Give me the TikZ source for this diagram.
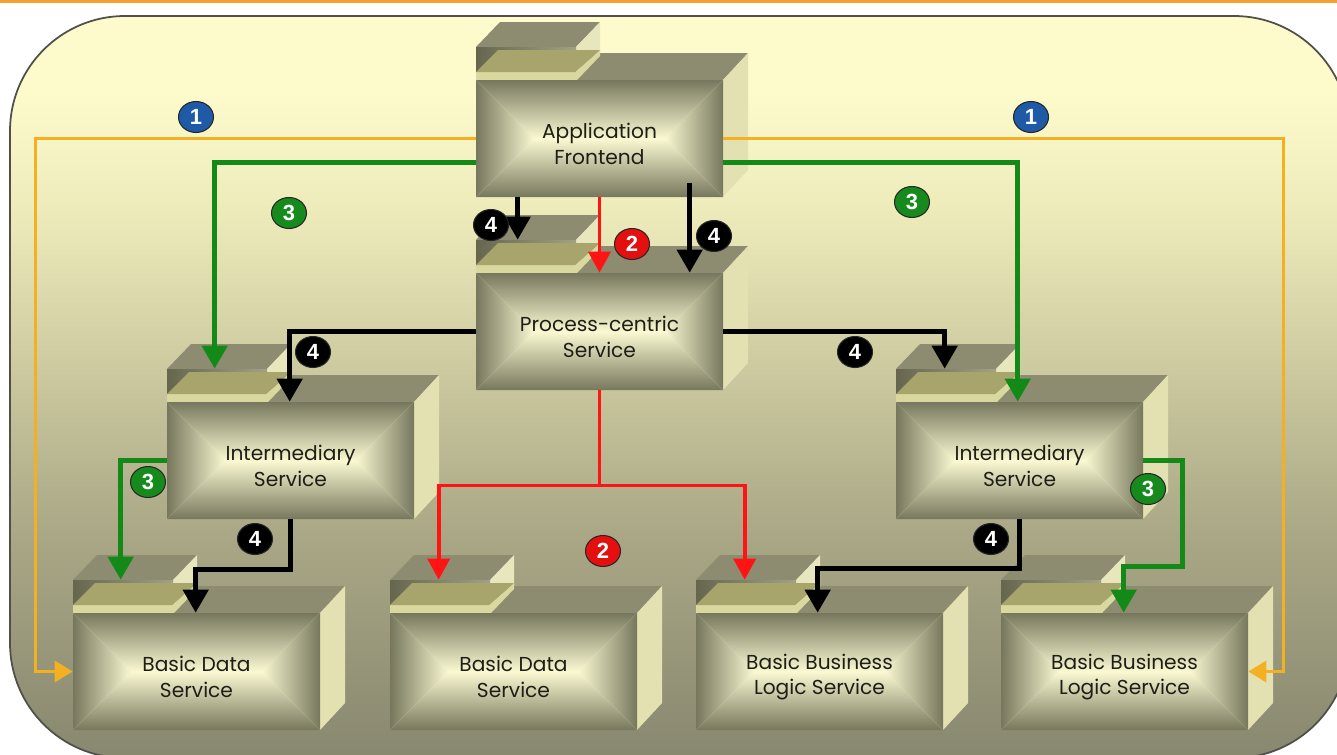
\documentclass[tikz,border=0pt]{standalone}
\usepackage{fontspec}
\setmainfont{Poppins}
\newfontfamily\badgefont{Liberation Sans}
\usetikzlibrary{arrows.meta,calc,shapes.geometric}

\definecolor{bgtop}{HTML}{FDFBCC}
\definecolor{bghigh}{HTML}{EEEBBB}
\definecolor{bgmid}{HTML}{CFCCA2}
\definecolor{bglow}{HTML}{A9A785}
\definecolor{bgbot}{HTML}{888870}
\definecolor{framec}{HTML}{505048}
\definecolor{topline}{HTML}{F6A032}
\definecolor{topc}{HTML}{8D8C71}
\definecolor{sidec}{HTML}{E3E1B2}
\definecolor{tabside}{HTML}{E8E6BC}
\definecolor{pocketl}{HTML}{66664F}
\definecolor{pocketr}{HTML}{A2A185}
\definecolor{stripc}{HTML}{A8A56C}
\definecolor{stripedge}{HTML}{D9D89E}
\definecolor{pedge}{HTML}{77775D}
\definecolor{pmid}{HTML}{FAF9D2}
\definecolor{textc}{HTML}{1E1E16}
\definecolor{orangec}{HTML}{F4B023}
\definecolor{greenc}{HTML}{138A17}
\definecolor{redc}{HTML}{FF1414}
\definecolor{bluebadge}{HTML}{1F5AA6}
\definecolor{greenbadge}{HTML}{178A1D}
\definecolor{redbadge}{HTML}{E41010}

\pgfdeclareverticalshading{panelshade}{100bp}{color(0bp)=(bgbot); color(25bp)=(bgbot);
  color(40bp)=(bglow); color(52bp)=(bgmid); color(62bp)=(bghigh); color(70bp)=(bgtop);
  color(100bp)=(bgtop)}

\tikzset{
  boxface/.style={inner sep=0pt, minimum width=4.94cm, minimum height=2.34cm},
  boxlabel/.style={inner sep=0pt, align=center, text=textc,
    font=\fontsize{11.5}{14.5}\selectfont},
  badge/.style={ellipse, draw=black!85, line width=0.6pt, fill=#1, inner sep=0pt,
    minimum width=0.7cm, minimum height=0.62cm, text=white,
    font=\badgefont\bfseries\fontsize{12.5}{12.5}\selectfont},
  flow1/.style={draw=orangec, line width=2pt, -{Triangle[length=0.36cm,width=0.42cm]}},
  flow2/.style={draw=redc, line width=2.1pt, -{Triangle[length=0.42cm,width=0.44cm]}},
  flow3/.style={draw=greenc, line width=2.7pt, -{Triangle[length=0.46cm,width=0.5cm]}},
  flow4/.style={draw=black, line width=2.7pt, -{Triangle[length=0.46cm,width=0.5cm]}}
}

% folder shaped service box, front face at #2,#3
\newcommand{\servicebox}[4]{%
  \begin{scope}[shift={(#2,#3)}]
    % tab
    \fill[topc] (0,-33) -- (24,-58) -- (124,-58) -- (100,-33) -- cycle;
    \fill[tabside] (100,-33) -- (124,-58) -- (124,-26) -- (100,-26) -- cycle;
    % top and side
    \fill[topc] (0,0) -- (25,-27) -- (272,-27) -- (247,0) -- cycle;
    \fill[sidec] (247,0) -- (272,-27) -- (272,90) -- (247,117) -- cycle;
    % pocket and paper
    \shade[left color=pocketl, right color=pocketr] (0,-33) rectangle (100,0);
    \fill[stripedge] (0,-8) -- (99,-8) -- (124,-30) -- (124,-24) -- (101,0) -- (0,0) -- cycle;
    \fill[stripc] (0,-8) -- (22,-30) -- (124,-30) -- (99,-8) -- cycle;
    % front
    \fill[pmid] (0,0) rectangle (247,117);
    \shade[left color=pedge, right color=pmid] (0,0) -- (58.5,58.5) -- (0,117) -- cycle;
    \shade[left color=pmid, right color=pedge] (247,0) -- (188.5,58.5) -- (247,117) -- cycle;
    \shade[top color=pedge, bottom color=pmid] (0,0) -- (247,0) -- (188.5,58.5) -- (58.5,58.5) -- cycle;
    \shade[top color=pmid, bottom color=pedge] (0,117) -- (247,117) -- (188.5,58.5) -- (58.5,58.5) -- cycle;
    \node[boxface] (#1) at (123.5,58.5) {};
    \node[boxlabel] (#1-text) at (123.5,64) {#4};
  \end{scope}}

\begin{document}
\begin{tikzpicture}[x=0.02cm, y=-0.02cm]
	\fill[white] (0,0) rectangle (1337,754);
	\useasboundingbox (0,0) rectangle (1337,754);
	\draw[topline, line width=0.06cm] (0,1.5) -- (1337,1.5);
	\shadedraw[shading=panelshade, draw=framec, line width=1pt, rounded corners=2.3cm]
		(10,16) rectangle (1349,758);

	\servicebox{app}{476}{80}{Application\\Frontend}
	\servicebox{proc}{476}{273}{Process-centric\\Service}
	\servicebox{intL}{167}{402}{Intermediary\\Service}
	\servicebox{intR}{896}{402}{Intermediary\\Service}
	\servicebox{bd1}{73}{613}{Basic Data\\Service}
	\servicebox{bd2}{390}{613}{Basic Data\\Service}
	\servicebox{bl1}{696}{613}{Basic Business\\Logic Service}
	\servicebox{bl2}{1001}{613}{Basic Business\\Logic Service}

	% 1
	\draw[flow1] (app.west) -- ++(-440,0) |- (bd1.west);
	\draw[flow1] (app.east) -- ++(560,0) |- (bl2.east);
	% 3
	\draw[flow3] ($(app.west)+(0,24)$) -| ($(intL.north west)+(48,-33)$);
	\draw[flow3] ($(app.east)+(0,24)$) -| ($(intR.north west)+(122,0)$);
	\draw[flow3] (intL.west) -| ($(bd1.north west)+(48,-33)$);
	\draw[flow3] (intR.east) -- ++(39,0) -- ++(0,106) -| ($(bl2.north west)+(123,0)$);
	% 4
	\draw[flow4] ($(app.south west)+(42,0)$) -- ($(proc.north west)+(42,-33)$);
	\draw[flow4] ($(app.south west)+(214,-14)$) -- ($(proc.north west)+(214,0)$);
	\draw[flow4] (proc.west) -| ($(intL.north west)+(123,0)$);
	\draw[flow4] (proc.east) -| ($(intR.north west)+(49,-33)$);
	\draw[flow4] ($(intL.south west)+(124,0)$) -- ++(0,50) -| ($(bd1.north west)+(123,0)$);
	\draw[flow4] ($(intR.south west)+(124,0)$) -- ++(0,49) -| ($(bl1.north west)+(122,0)$);
	% 2
	\draw[flow2] (app.south) -- (proc.north);
	\draw[flow2] (proc.south) -- ++(0,95) -| ($(bd2.north west)+(49,-33)$);
	\draw[flow2] (proc.south) -- ++(0,95) -| ($(bl1.north west)+(49,-33)$);

	\node[badge=bluebadge] (n1l) at (196,117) {1};
	\node[badge=bluebadge] (n1r) at (1031,117) {1};
	\node[badge=redbadge] (n2t) at (632,244) {2};
	\node[badge=redbadge] (n2b) at (603,551) {2};
	\node[badge=greenbadge] (n3l) at (289,213) {3};
	\node[badge=greenbadge] (n3r) at (912,202) {3};
	\node[badge=greenbadge] (n3il) at (148,482) {3};
	\node[badge=greenbadge] (n3ir) at (1148,489) {3};
	\node[badge=black] (n4a) at (491,225) {4};
	\node[badge=black] (n4b) at (714,236) {4};
	\node[badge=black] (n4c) at (313,352) {4};
	\node[badge=black] (n4d) at (855,352) {4};
	\node[badge=black] (n4e) at (255,539) {4};
	\node[badge=black] (n4f) at (991,539) {4};
\end{tikzpicture}
\end{document}
